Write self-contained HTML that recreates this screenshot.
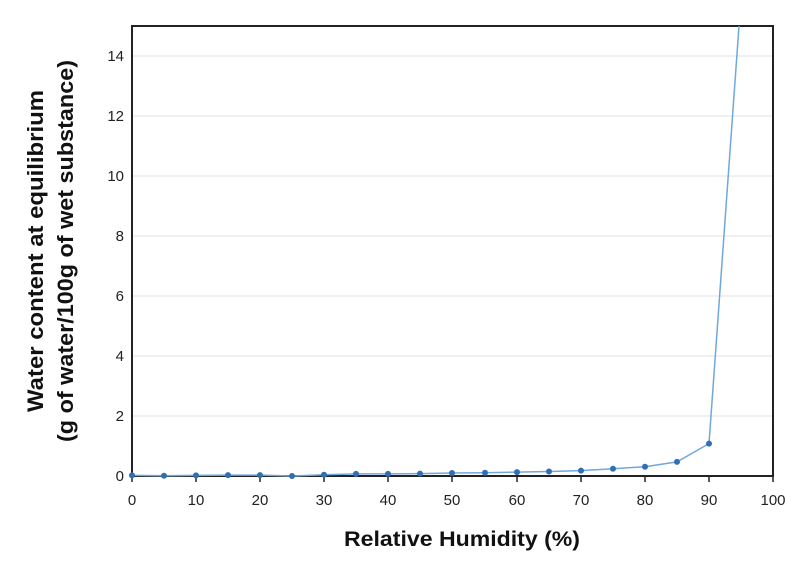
<!DOCTYPE html>
<html><head><meta charset="utf-8"><style>body{margin:0;background:#fff}svg{display:block}</style></head>
<body>
<svg width="800" height="571" xmlns="http://www.w3.org/2000/svg" font-family="'Liberation Sans', sans-serif">
<g stroke="#e0e0e0" stroke-width="1">
<line x1="132" x2="773" y1="416" y2="416"/><line x1="132" x2="773" y1="356" y2="356"/>
<line x1="132" x2="773" y1="296" y2="296"/><line x1="132" x2="773" y1="236" y2="236"/>
<line x1="132" x2="773" y1="176" y2="176"/><line x1="132" x2="773" y1="116" y2="116"/>
<line x1="132" x2="773" y1="56" y2="56"/>
</g>
<rect x="132" y="26" width="641" height="450" fill="none" stroke="#222" stroke-width="2"/>
<g stroke="#222" stroke-width="1.5">
<line x1="132" x2="132" y1="476" y2="482"/><line x1="196" x2="196" y1="476" y2="482"/><line x1="260" x2="260" y1="476" y2="482"/><line x1="324" x2="324" y1="476" y2="482"/><line x1="388" x2="388" y1="476" y2="482"/><line x1="452" x2="452" y1="476" y2="482"/><line x1="517" x2="517" y1="476" y2="482"/><line x1="581" x2="581" y1="476" y2="482"/><line x1="645" x2="645" y1="476" y2="482"/><line x1="709" x2="709" y1="476" y2="482"/><line x1="773" x2="773" y1="476" y2="482"/>
</g>
<g font-size="15" fill="#222" text-anchor="middle">
<text x="132" y="505">0</text><text x="196" y="505">10</text><text x="260" y="505">20</text><text x="324" y="505">30</text><text x="388" y="505">40</text><text x="452" y="505">50</text><text x="517" y="505">60</text><text x="581" y="505">70</text><text x="645" y="505">80</text><text x="709" y="505">90</text><text x="773" y="505">100</text>
</g>
<g font-size="15" fill="#222" text-anchor="end">
<text x="124" y="481">0</text><text x="124" y="421">2</text><text x="124" y="361">4</text><text x="124" y="301">6</text><text x="124" y="241">8</text><text x="124" y="181">10</text><text x="124" y="121">12</text><text x="124" y="61">14</text>
</g>
<text x="462" y="546" font-size="21" font-weight="bold" text-anchor="middle" fill="#111" textLength="236" lengthAdjust="spacingAndGlyphs">Relative Humidity (%)</text>
<g font-size="22" font-weight="bold" fill="#111" text-anchor="middle">
<text transform="translate(43,251) rotate(-90)" textLength="322" lengthAdjust="spacingAndGlyphs">Water content at equilibrium</text>
<text transform="translate(73,251) rotate(-90)" textLength="382" lengthAdjust="spacingAndGlyphs">(g of water/100g of wet substance)</text>
</g>
<polyline fill="none" stroke="#6fa8dc" stroke-width="1.5" points="132,475.4 164,475.7 196,475.4 228,475.1 260,475.1 292,476 324,474.8 356,473.9 388,473.9 420,473.6 452,473 485,472.7 517,472.1 549,471.5 581,470.6 613,468.8 645,466.7 677,461.9 709,443.6 739,26"/>
<g fill="#2e6fb5">
<circle cx="132" cy="475.4" r="3"/><circle cx="164" cy="475.7" r="3"/><circle cx="196" cy="475.4" r="3"/><circle cx="228" cy="475.1" r="3"/><circle cx="260" cy="475.1" r="3"/><circle cx="292" cy="476" r="3"/><circle cx="324" cy="474.8" r="3"/><circle cx="356" cy="473.9" r="3"/><circle cx="388" cy="473.9" r="3"/><circle cx="420" cy="473.6" r="3"/><circle cx="452" cy="473" r="3"/><circle cx="485" cy="472.7" r="3"/><circle cx="517" cy="472.1" r="3"/><circle cx="549" cy="471.5" r="3"/><circle cx="581" cy="470.6" r="3"/><circle cx="613" cy="468.8" r="3"/><circle cx="645" cy="466.7" r="3"/><circle cx="677" cy="461.9" r="3"/><circle cx="709" cy="443.6" r="3"/>
</g>
</svg>
</body></html>
